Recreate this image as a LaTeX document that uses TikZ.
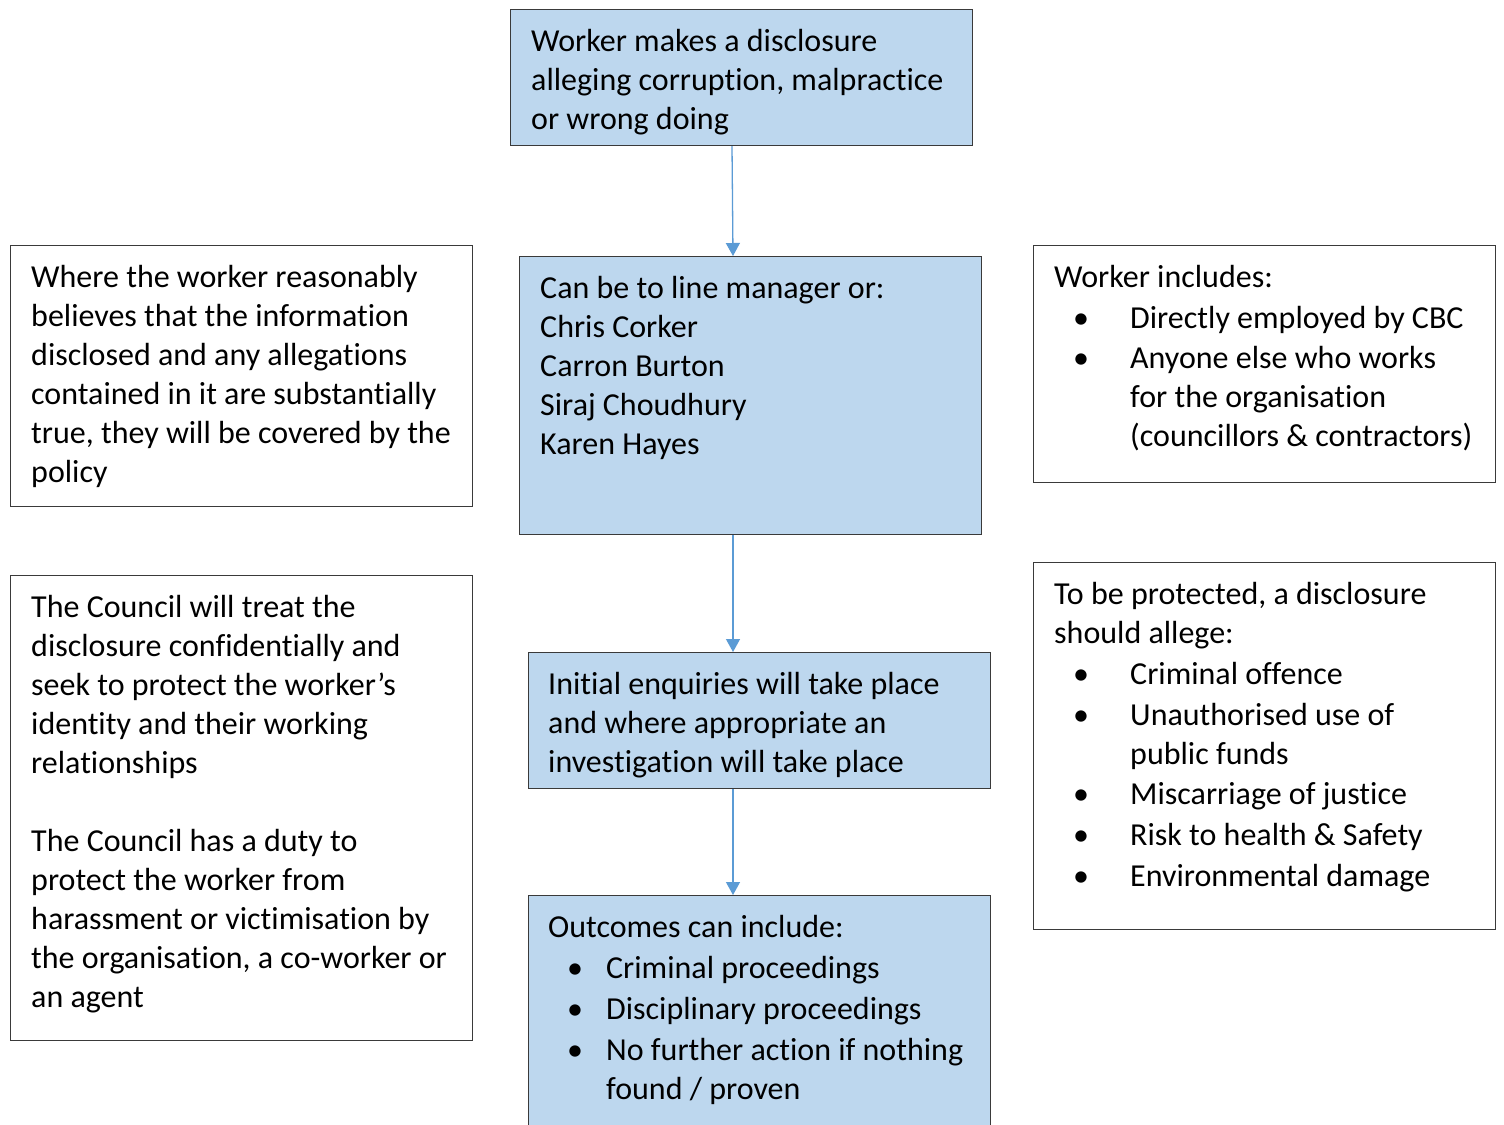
\documentclass[tikz,border=0pt]{standalone}
\usepackage{fontspec}
\setmainfont{Carlito}[Ligatures=NoCommon]
\usetikzlibrary{arrows.meta,calc}
\definecolor{boxblue}{HTML}{BDD7EE}
\definecolor{arrblue}{HTML}{5B9BD5}
\definecolor{edge}{HTML}{3A3A3A}
\newcommand\bul[2]{\hspace*{19pt}\makebox[\dimexpr#1-19pt\relax][l]{\textbullet}#2}
\newcommand\cont[2]{\hspace*{#1}#2}
\begin{document}
\begin{tikzpicture}[x=1pt,y=-1pt,
  box/.style={draw=edge,line width=1.2pt,anchor=north west,inner sep=0pt},
  bluebox/.style={box,fill=boxblue},
  whitebox/.style={box,fill=white},
  txt/.style={anchor=base west,inner sep=0pt,font=\fontsize{32}{39}\selectfont},
  flow/.style={draw=arrblue,line width=1.3pt,-{Triangle[width=14pt,length=13pt]}}]
\useasboundingbox (0,0) rectangle (1504,1124);
\clip (0,0) rectangle (1504,1124);
\fill[white] (0,0) rectangle (1504,1124);
% boxes
\node[bluebox,minimum width=462pt,minimum height=136pt] (top) at (510,9) {};
\node[bluebox,minimum width=462pt,minimum height=278pt] (mgr) at (519,256) {};
\node[bluebox,minimum width=462pt,minimum height=136pt] (enq) at (528,652) {};
\node[bluebox,minimum width=462pt,minimum height=260pt] (out) at (528,895) {};
\node[whitebox,minimum width=462pt,minimum height=261pt] (lt) at (10,245) {};
\node[whitebox,minimum width=462pt,minimum height=465pt] (lb) at (10,575) {};
\node[whitebox,minimum width=462pt,minimum height=237pt] (rt) at (1033,245) {};
\node[whitebox,minimum width=462pt,minimum height=367pt] (rb) at (1033,562) {};
% texts
\node[txt] (toptxt) at (531,51.5) {\parbox[t]{440pt}{Worker makes a disclosure\\alleging corruption, malpractice\\or wrong doing}};
\node[txt] (mgrtxt) at (540,298.5) {\parbox[t]{440pt}{Can be to line manager or:\\Chris Corker\\Carron Burton\\Siraj Choudhury\\Karen Hayes}};
\node[txt] (enqtxt) at (548,694.5) {\parbox[t]{440pt}{Initial enquiries will take place\\and where appropriate an\\investigation will take place}};
\node[txt] (outtxt) at (548,937.5) {\parbox[t]{440pt}{Outcomes can include:\\[2pt]
\bul{58pt}{Criminal proceedings}\\[2pt]
\bul{58pt}{Disciplinary proceedings}\\[2pt]
\bul{58pt}{No further action if nothing}\\
\cont{58pt}{found / proven}}};
\node[txt] (lttxt) at (31,287.5) {\parbox[t]{440pt}{Where the worker reasonably\\believes that the information\\disclosed and any allegations\\contained in it are substantially\\true, they will be covered by the\\policy}};
\node[txt] (lbtxt) at (31,617.5) {\parbox[t]{440pt}{The Council will treat the\\disclosure confidentially and\\seek to protect the worker’s\\identity and their working\\relationships\\[39pt]The Council has a duty to\\protect the worker from\\harassment or victimisation by\\the organisation, a co-worker or\\an agent}};
\node[txt] (rttxt) at (1054,287.5) {\parbox[t]{440pt}{Worker includes:\\[2pt]
\bul{76pt}{Directly employed by CBC}\\[1pt]
\bul{76pt}{Anyone else who works}\\
\cont{76pt}{for the organisation}\\
\cont{76pt}{(councillors \& contractors)}}};
\node[txt] (rbtxt) at (1054,604.5) {\parbox[t]{440pt}{To be protected, a disclosure\\should allege:\\[2pt]
\bul{76pt}{Criminal offence}\\[2pt]
\bul{76pt}{Unauthorised use of}\\
\cont{76pt}{public funds}\\[1pt]
\bul{76pt}{Miscarriage of justice}\\[2pt]
\bul{76pt}{Risk to health \& Safety}\\[2pt]
\bul{76pt}{Environmental damage}}};
% connectors
\draw[flow] ($(top.south west)+(222,0)$) -- ($(mgr.north west)+(214,0)$);
\draw[flow] ($(mgr.south west)+(214,0)$) -- ($(enq.north west)+(205,0)$);
\draw[flow] ($(enq.south west)+(205,0)$) -- ($(out.north west)+(205,0)$);
\end{tikzpicture}
\end{document}
